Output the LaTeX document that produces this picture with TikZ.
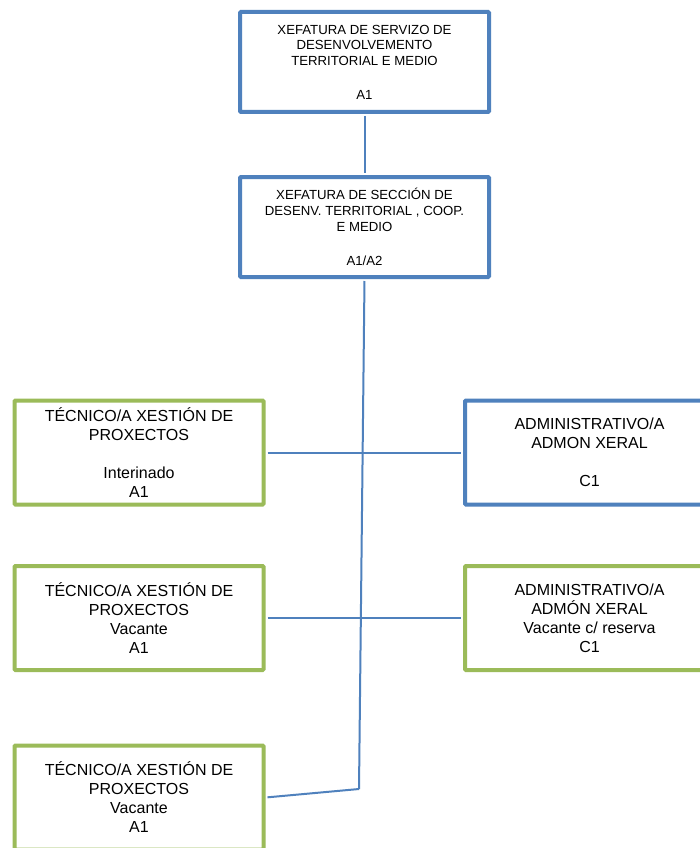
\documentclass[tikz,border=0pt]{standalone}
\usepackage{fontspec}
\setmainfont{Liberation Sans}
\definecolor{orgblue}{RGB}{79,129,189}
\definecolor{orggreen}{RGB}{155,187,89}
\begin{document}
\begin{tikzpicture}[x=1pt,y=-1pt,
  topbox/.style={draw=orgblue,line width=4pt,fill=white,rounded corners=1pt,
    minimum width=249pt,minimum height=100pt,inner sep=0pt,align=center,
    font=\fontsize{13.2}{15.7}\selectfont},
  staffbox/.style={draw=#1,line width=4pt,fill=white,rounded corners=1pt,
    minimum width=249pt,minimum height=104pt,inner sep=0pt,align=center,
    font=\fontsize{16}{19}\selectfont},
  link/.style={draw=orgblue,line width=2pt}]
\clip (0,0) rectangle (700,848);
\fill[white] (0,0) rectangle (700,848);
\node[topbox] (top) at (364.5,62) {XEFATURA DE SERVIZO DE\\DESENVOLVEMENTO\\TERRITORIAL E MEDIO\\[18pt]A1};
\node[topbox] (sec) at (364.5,227) {XEFATURA DE SECCIÓN DE\\DESENV. TERRITORIAL , COOP.\\E MEDIO\\[19pt]A1/A2};
\node[staffbox=orggreen] (l1) at (139,452.5) {TÉCNICO/A XESTIÓN DE\\PROXECTOS\\[19pt]Interinado\\A1};
\node[staffbox=orgblue] (r1) at (589.5,452.5) {ADMINISTRATIVO/A\\ADMON XERAL\\[19pt]C1};
\node[staffbox=orggreen] (l2) at (139,618) {TÉCNICO/A XESTIÓN DE\\PROXECTOS\\Vacante\\A1};
\node[staffbox=orggreen] (r2) at (589.5,618) {ADMINISTRATIVO/A\\ADMÓN XERAL\\Vacante c/ reserva\\C1};
\node[staffbox=orggreen] (l3) at (139,797.5) {TÉCNICO/A XESTIÓN DE\\PROXECTOS\\Vacante\\A1};
\coordinate (bend) at (359,789);
\draw[link,shorten <=2pt,shorten >=2pt] (top.south) -- (sec.north);
\draw[link,shorten <=2pt] (sec.south) -- (bend);
\draw[link,shorten >=2pt] (bend) -- (l3.east);
\draw[link,shorten <=2pt,shorten >=2pt] (l1.east) -- (r1.west);
\draw[link,shorten <=2pt,shorten >=2pt] (l2.east) -- (r2.west);
\end{tikzpicture}
\end{document}
